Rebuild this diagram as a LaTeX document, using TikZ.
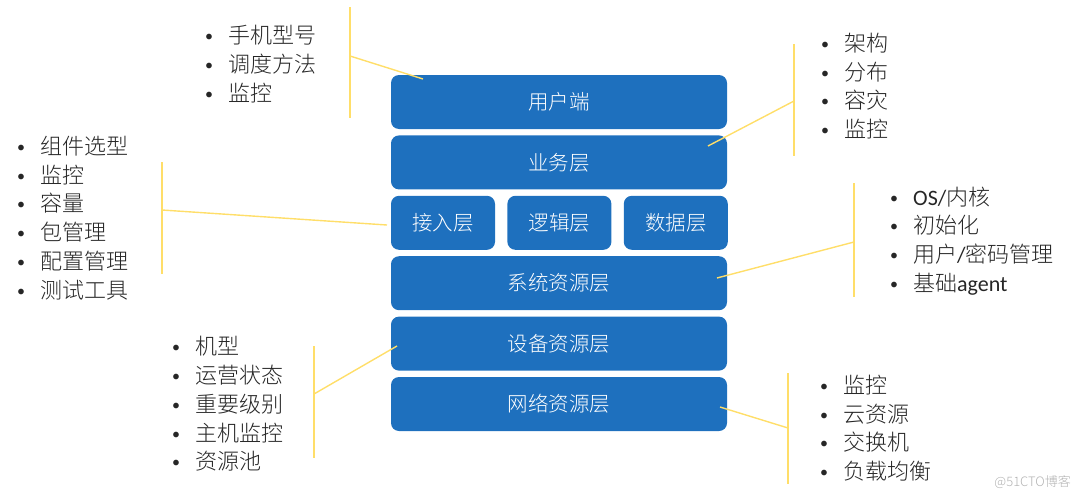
\documentclass[tikz,border=0pt]{standalone}
\usepackage{fontspec}
\setmainfont{Noto Sans CJK SC}[UprightFont = * Light]
\newfontfamily\lat{Carlito}
\usetikzlibrary{positioning}
\definecolor{layerblue}{RGB}{30,112,190}
\definecolor{lineyellow}{RGB}{255,222,105}
\tikzstyle{layer} = [rectangle, rounded corners=8pt, fill=layerblue, text=white, minimum height=54pt, inner sep=0pt, font=\fontsize{20.5}{24}\selectfont]
\tikzstyle{wide} = [layer, minimum width=336pt]
\tikzstyle{part} = [layer, minimum width=104pt]
\tikzstyle{list} = [align=left, anchor=west, inner sep=0pt, text=black!85, font=\fontsize{22}{28.7}\selectfont]
\tikzstyle{link} = [draw=lineyellow, line width=1.4pt]
\newcommand{\itm}[1]{\makebox[24pt][l]{\hspace{1pt}\raisebox{2pt}{\lat\fontsize{16}{16}\selectfont •}}#1}

\begin{document}
\begin{tikzpicture}[x=1pt, y=-1pt]
			\useasboundingbox (0,0) rectangle (1080,498);
			% layer stack
			\node[wide] (user) at (559,102) {用户端};
			\node[wide, below=6pt of user] (biz) {业务层};
			\node[part, anchor=north west] (acc) at ([yshift=-6pt]biz.south west) {接入层};
			\node[part, right=12pt of acc] (logic) {逻辑层};
			\node[part, right=12pt of logic] (data) {数据层};
			\node[wide, anchor=north west] (sys) at ([yshift=-6pt]acc.south west) {系统资源层};
			\node[wide, below=6pt of sys] (dev) {设备资源层};
			\node[wide, below=6pt of dev] (net) {网络资源层};
			% lists
			\node[list] (l1) at (204,64) {\itm{手机型号}\\\itm{调度方法}\\\itm{监控}};
			\node[list] (l2) at (820,86) {\itm{架构}\\\itm{分布}\\\itm{容灾}\\\itm{监控}};
			\node[list] (l3) at (16,218) {\itm{组件选型}\\\itm{监控}\\\itm{容量}\\\itm{包管理}\\\itm{配置管理}\\\itm{测试工具}};
			\node[list] (l4) at (889,241) {\itm{{\lat OS/}内核}\\\itm{初始化}\\\itm{用户{\lat /}密码管理}\\\itm{基础{\lat agent}}};
			\node[list] (l5) at (171,404) {\itm{机型}\\\itm{运营状态}\\\itm{重要级别}\\\itm{主机监控}\\\itm{资源池}};
			\node[list] (l6) at (819,428) {\itm{监控}\\\itm{云资源}\\\itm{交换机}\\\itm{负载均衡}};
			% brackets
			\coordinate (b1t) at (350,7);   \coordinate (b1b) at (350,118); \coordinate (b1m) at (350,56);
			\coordinate (b2t) at (794,44);  \coordinate (b2b) at (794,156); \coordinate (b2m) at (794,101);
			\coordinate (b3t) at (162,162); \coordinate (b3b) at (162,274); \coordinate (b3m) at (162,210);
			\coordinate (b4t) at (854,183); \coordinate (b4b) at (854,297); \coordinate (b4m) at (854,242);
			\coordinate (b5t) at (314,346); \coordinate (b5b) at (314,458); \coordinate (b5m) at (314,394);
			\coordinate (b6t) at (788,373); \coordinate (b6b) at (788,484); \coordinate (b6m) at (788,428);
			\coordinate (e1) at (423,79);
			\coordinate (e2) at (708,146);
			\coordinate (e3) at (387,225);
			\coordinate (e4) at (717,278);
			\coordinate (e5) at (397,346);
			\coordinate (e6) at (720,407);
			\draw[link] (b1t) -- (b1b); \draw[link] (b1m) -- (e1);
			\draw[link] (b2t) -- (b2b); \draw[link] (b2m) -- (e2);
			\draw[link] (b3t) -- (b3b); \draw[link] (b3m) -- (e3);
			\draw[link] (b4t) -- (b4b); \draw[link] (b4m) -- (e4);
			\draw[link] (b5t) -- (b5b); \draw[link] (b5m) -- (e5);
			\draw[link] (b6t) -- (b6b); \draw[link] (b6m) -- (e6);
			\node[text=black!30, font=\fontsize{13}{13}\selectfont, anchor=east, inner sep=0pt] (mark) at (1071,482) {@51CTO博客};
		\end{tikzpicture}
\end{document}
